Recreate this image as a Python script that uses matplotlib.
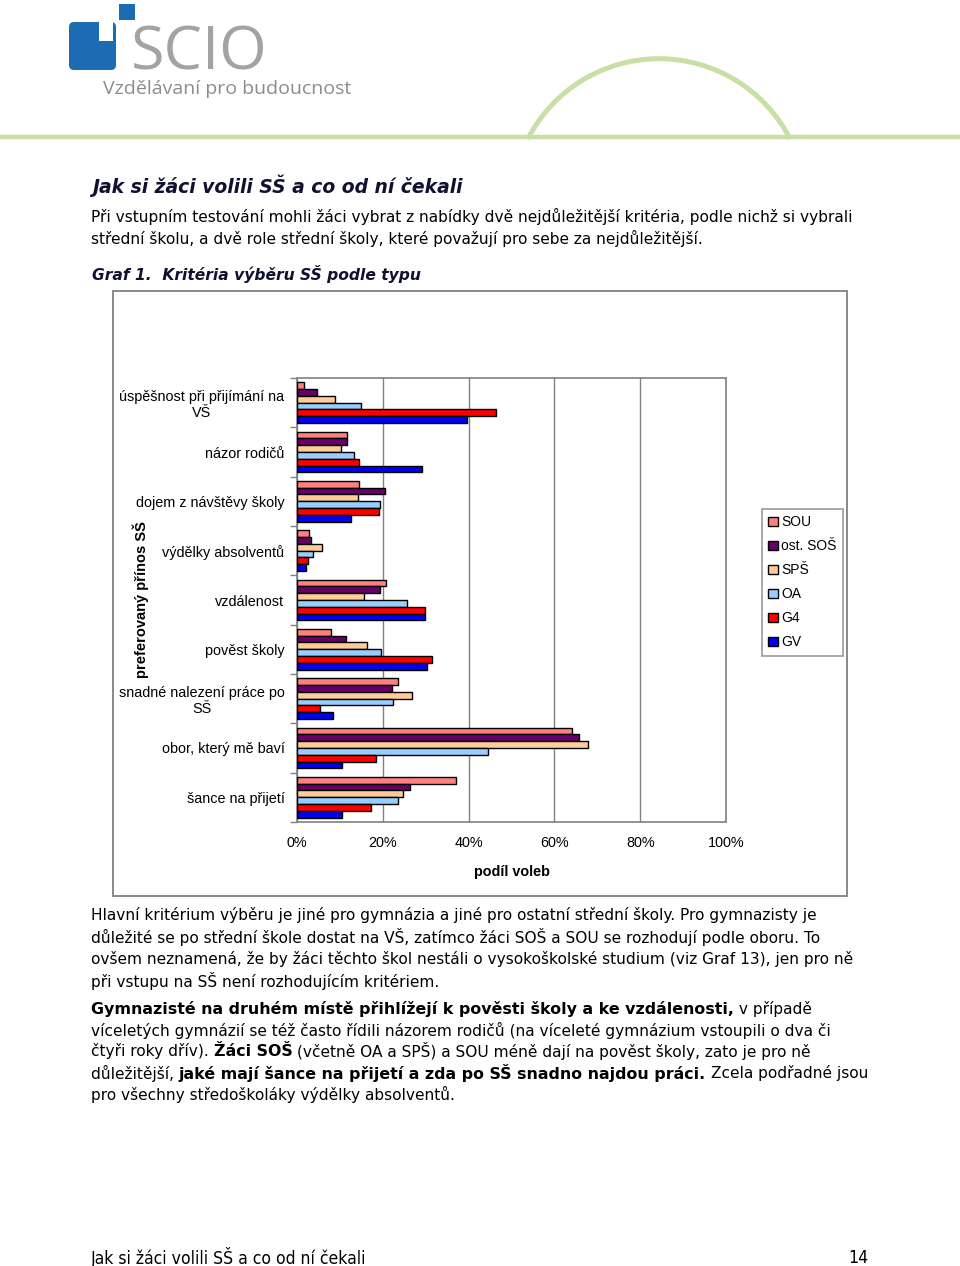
import matplotlib
matplotlib.use("Agg")
import matplotlib.pyplot as plt
import matplotlib.patches as patches
import numpy as np

# data (share of votes, %)
criteria = [
    "úspěšnost při přijímání na\nVŠ",
    "názor rodičů",
    "dojem z návštěvy školy",
    "výdělky absolventů",
    "vzdálenost",
    "pověst školy",
    "snadné nalezení práce po\nSŠ",
    "obor, který mě baví",
    "šance na přijetí",
]
school_types = ["SOU", "ost. SOŠ", "SPŠ", "OA", "G4", "GV"]
sou = [1.6, 11.7, 14.5, 2.7, 20.7, 8.0, 23.5, 64.1, 37.1]
ost_sos = [4.7, 11.7, 20.6, 3.2, 19.3, 11.5, 22.2, 65.8, 26.4]
sps = [8.8, 10.2, 14.3, 5.8, 15.7, 16.4, 26.7, 67.9, 24.7]
oa = [15.0, 13.4, 19.3, 3.7, 25.7, 19.5, 22.4, 44.5, 23.6]
g4 = [46.4, 14.5, 19.1, 2.6, 29.8, 31.5, 5.4, 18.3, 17.2]
gv = [39.7, 29.2, 12.5, 2.2, 29.8, 30.3, 8.5, 10.5, 10.5]
x_ticks = [0, 20, 40, 60, 80, 100]

series = [sou, ost_sos, sps, oa, g4, gv]
colors = ["#FF8080", "#660066", "#FFCC99", "#99CCFF", "#FF0000", "#0000EE"]

W, H = 960, 1266
fig = plt.figure(figsize=(W / 100, H / 100), dpi=100)

# page overlay in pixel coordinates
page = fig.add_axes([0, 0, 1, 1], zorder=0)
page.set_xlim(0, W)
page.set_ylim(H, 0)
page.axis("off")

# logo
page.add_patch(patches.FancyBboxPatch((69, 22), 47, 48, boxstyle="round,pad=0,rounding_size=5",
                                      fc="#1c6cb3", ec="none"))
page.add_patch(patches.Rectangle((99, 22), 14, 19, fc="white", ec="none"))
page.add_patch(patches.Rectangle((119, 4), 16, 16, fc="#1c6cb3", ec="none"))
page.text(131, 70, "SCIO", fontsize=44, color="#a3a3a3", family="Open Sans",
          va="baseline", ha="left")
page.text(103, 94, "Vzdělávaní pro budoucnost", fontsize=14, color="#8c8c8c",
          family="Open Sans", va="baseline", ha="left")
page.plot([0, W], [137, 137], color="#c8dfa6", lw=3.2, solid_capstyle="butt")
page.add_patch(patches.Arc((659, 206), 294.6, 294.6, theta1=207, theta2=333,
                           color="#c8dfa6", lw=3.6))

body = dict(family="DejaVu Sans", color="black", va="center", ha="left")


def runs(y, parts, x=91):
    r = fig.canvas.get_renderer()
    for txt, bold in parts:
        if bold:
            t = page.text(x, y, txt, fontweight="bold", fontsize=11.4, **body)
        else:
            t = page.text(x, y, txt, fontsize=11.1, **body)
        x += t.get_window_extent(renderer=r).width


page.text(92, 186, "Jak si žáci volili SŠ a co od ní čekali", family="DejaVu Sans",
          fontsize=13.5, fontweight="bold", style="italic", color="#101030", va="center")
runs(216, [("Při vstupním testování mohli žáci vybrat z nabídky dvě nejdůležitější kritéria, podle nichž si vybrali", False)])
runs(238, [("střední školu, a dvě role střední školy, které považují pro sebe za nejdůležitější.", False)])
page.text(92, 274, "Graf 1.  Kritéria výběru SŠ podle typu", family="DejaVu Sans",
          fontsize=11.2, fontweight="bold", style="italic", color="#101030", va="center")

runs(915, [("Hlavní kritérium výběru je jiné pro gymnázia a jiné pro ostatní střední školy. Pro gymnazisty je", False)])
runs(937, [("důležité se po střední škole dostat na VŠ, zatímco žáci SOŠ a SOU se rozhodují podle oboru. To", False)])
runs(959, [("ovšem neznamená, že by žáci těchto škol nestáli o vysokoškolské studium (viz Graf 13), jen pro ně", False)])
runs(981, [("při vstupu na SŠ není rozhodujícím kritériem.", False)])
runs(1009, [("Gymnazisté na druhém místě přihlížejí k pověsti školy a ke vzdálenosti,", True),
            (" v případě", False)])
runs(1030, [("víceletých gymnázií se též často řídili názorem rodičů (na víceleté gymnázium vstoupili o dva či", False)])
runs(1051, [("čtyři roky dřív). ", False), ("Žáci SOŠ", True),
            (" (včetně OA a SPŠ) a SOU méně dají na pověst školy, zato je pro ně", False)])
runs(1073, [("důležitější, ", False), ("jaké mají šance na přijetí a zda po SŠ snadno najdou práci.", True),
            (" Zcela podřadné jsou", False)])
runs(1094, [("pro všechny středoškoláky výdělky absolventů.", False)])

page.text(91, 1258, "Jak si žáci volili SŠ a co od ní čekali", family="DejaVu Sans",
          fontstretch="condensed", fontsize=12.6, va="center", ha="left")
page.text(868, 1258, "14", family="DejaVu Sans", fontstretch="condensed",
          fontsize=12.6, va="center", ha="right")

# chart frame
page.add_patch(patches.Rectangle((113, 291), 734, 605, fill=False, ec="#808080", lw=1.3))

# chart
ax = fig.add_axes([297 / W, 1 - 822 / H, 429 / W, 444 / H], zorder=1)
y = np.arange(len(criteria))
h = 0.138
for j, (vals, c, name) in enumerate(zip(series, colors, school_types)):
    ax.barh(y - 0.415 + h * (j + 0.5), vals, height=h, color=c, edgecolor="black",
            linewidth=1, label=name, zorder=3)

ax.set_xlim(0, 100)
ax.set_ylim(len(criteria) - 0.5, -0.5)
ax.set_xticks(x_ticks)
ax.set_xticklabels([f"{v}%" for v in x_ticks])
ax.set_yticks(y)
ax.set_yticklabels(criteria, multialignment="center")
ax.set_yticks(np.arange(len(criteria) + 1) - 0.5, minor=True)
ax.tick_params(axis="y", which="major", length=0, pad=9)
ax.tick_params(axis="y", which="minor", length=5, color="#808080", width=1)
ax.tick_params(axis="x", length=0, pad=10)
for lab in ax.get_xticklabels() + ax.get_yticklabels():
    lab.set_family("Liberation Sans")
    lab.set_fontsize(10.4)
ax.grid(axis="x", color="#808080", lw=1, zorder=0)
for s in ax.spines.values():
    s.set_color("#808080")
    s.set_linewidth(1.2)

ax.set_xlabel("podíl voleb", family="Liberation Sans", fontsize=10.4, fontweight="bold",
              labelpad=11)
fig.text(141 / W, 1 - 600 / H, "preferovaný přínos SŠ", rotation=90, family="Liberation Sans",
         fontsize=10.5, fontweight="bold", ha="center", va="center")

leg = ax.legend(loc="upper left", bbox_to_anchor=(762 / W, 1 - 509 / H),
                bbox_transform=fig.transFigure, prop={"family": "Liberation Sans", "size": 10},
                frameon=True, fancybox=False, edgecolor="#808080", handlelength=0.7,
                handleheight=0.7, handletextpad=0.25, labelspacing=0.72, borderpad=0.45,
                borderaxespad=0)
leg.get_frame().set_linewidth(1.2)

fig.savefig("out.png", dpi=100)
